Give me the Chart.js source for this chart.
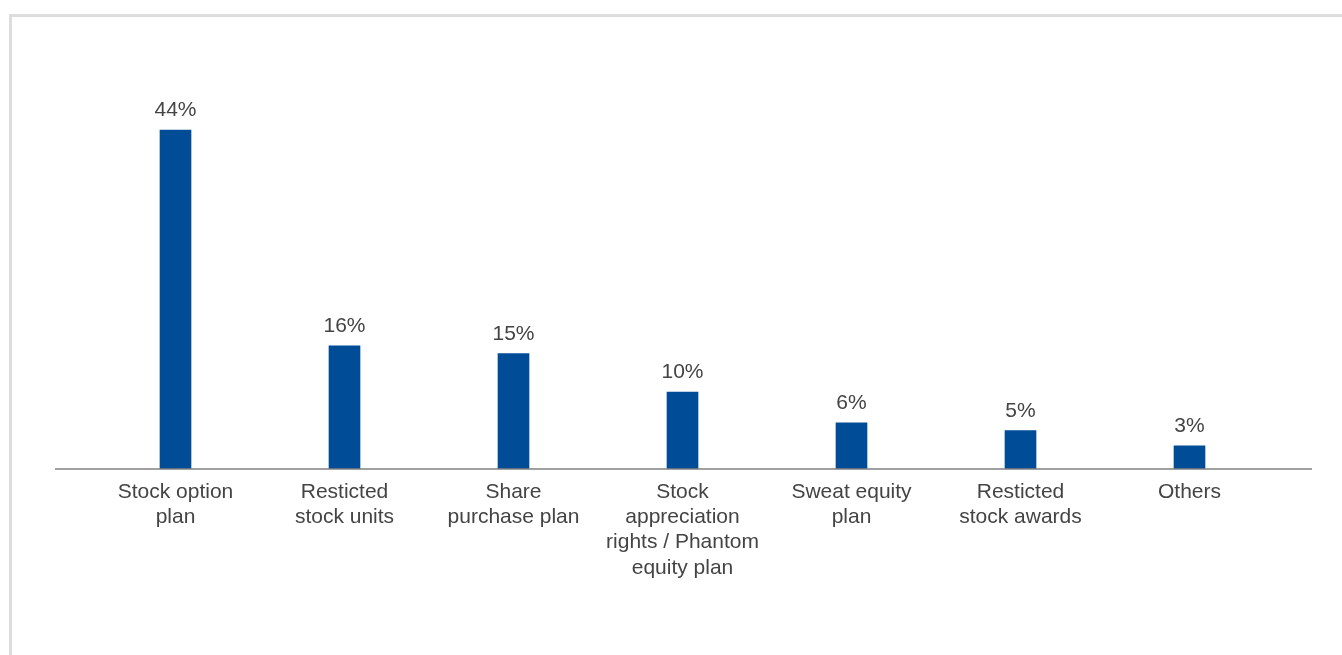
<!DOCTYPE html>
<html>
<head>
<meta charset="utf-8">
<script src="https://cdn.jsdelivr.net/npm/chart.js@4/dist/chart.umd.min.js"></script>
<style>
  html, body { margin: 0; padding: 0; background: #fff; overflow: hidden; }
  .frame {
    position: absolute; left: 9px; top: 14px; width: 1400px; height: 700px;
    border-top: 3px solid #dddddd; border-left: 3px solid #dddddd;
  }
  .wrap { position: absolute; left: 0; top: 0; width: 1342px; height: 655px; }
</style>
</head>
<body>
<div class="frame"></div>
<div class="wrap"><canvas id="plansChart"></canvas></div>
<script>
// Share-based plan types and their share of respondents (%)
const planLabels = [
  ['Stock option', 'plan'],
  ['Resticted', 'stock units'],
  ['Share', 'purchase plan'],
  ['Stock', 'appreciation', 'rights / Phantom', 'equity plan'],
  ['Sweat equity', 'plan'],
  ['Resticted', 'stock awards'],
  ['Others']
];
const planShares = [44, 16, 15, 10, 6, 5, 3];

const barBlue = '#004C97';
const textGrey = '#444444';
const labelFont = '"Liberation Sans", Arial, sans-serif';

// value labels above each bar plus the long baseline
const barExtras = {
  id: 'barExtras',
  afterDatasetsDraw(chart) {
    const ctx = chart.ctx;
    const area = chart.chartArea;
    const yZero = chart.scales.y.getPixelForValue(0);
    ctx.save();
    ctx.strokeStyle = '#808080';
    ctx.lineWidth = 1.5;
    ctx.beginPath();
    ctx.moveTo(area.left - 36, yZero);
    ctx.lineTo(area.right + 38, yZero);
    ctx.stroke();

    ctx.fillStyle = textGrey;
    ctx.font = '21px ' + labelFont;
    ctx.textAlign = 'center';
    ctx.textBaseline = 'alphabetic';
    chart.getDatasetMeta(0).data.forEach((bar, i) => {
      ctx.fillText(planShares[i] + '%', bar.x, bar.y - 14);
    });
    ctx.restore();
  }
};

new Chart(document.getElementById('plansChart'), {
  type: 'bar',
  data: {
    labels: planLabels,
    datasets: [{
      data: planShares,
      backgroundColor: barBlue,
      barThickness: 31
    }]
  },
  options: {
    responsive: true,
    maintainAspectRatio: false,
    animation: false,
    layout: { padding: { left: 91, right: 68, top: 84, bottom: 66 } },
    plugins: {
      legend: { display: false },
      tooltip: { enabled: false }
    },
    scales: {
      x: {
        grid: { display: false, drawTicks: false },
        border: { display: false },
        ticks: {
          color: textGrey,
          padding: 10,
          maxRotation: 0,
          autoSkip: false,
          font: { family: labelFont, size: 21, lineHeight: 1.21 }
        },
        afterFit(scale) { scale.height = 120; }
      },
      y: {
        display: false,
        min: 0,
        max: 50
      }
    }
  },
  plugins: [barExtras]
});
</script>
</body>
</html>
